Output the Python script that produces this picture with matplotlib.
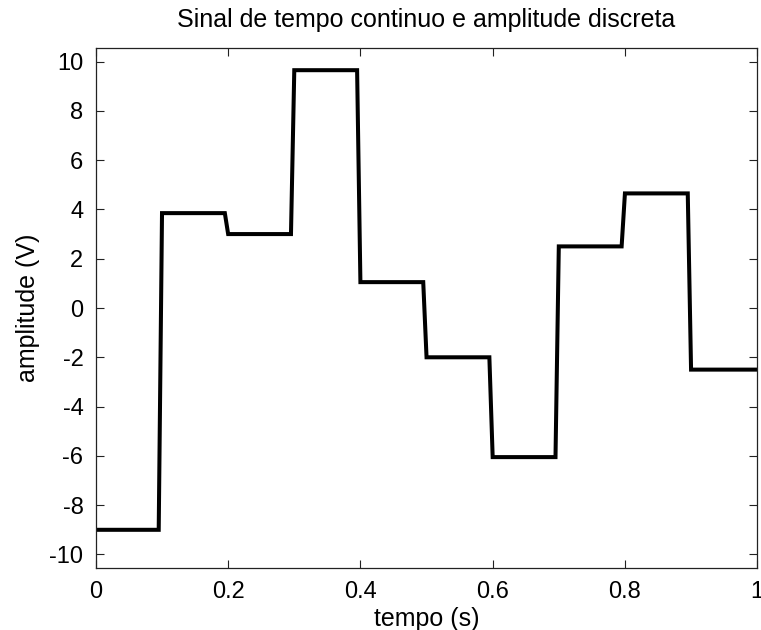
import matplotlib
matplotlib.use("Agg")
import matplotlib.pyplot as plt

# Step levels of the signal (one per 0.1 s interval)
seg_start = [0.0, 0.1, 0.2, 0.3, 0.4, 0.5, 0.6, 0.7, 0.8, 0.9]
seg_end = [0.095, 0.195, 0.295, 0.395, 0.495, 0.595, 0.695, 0.795, 0.895, 1.0]
levels = [-9.0, 3.85, 3.0, 9.65, 1.05, -2.0, -6.05, 2.5, 4.65, -2.5]

xticks = [0, 0.2, 0.4, 0.6, 0.8, 1]
xtick_labels = ["0", "0.2", "0.4", "0.6", "0.8", "1"]
yticks = [-10, -8, -6, -4, -2, 0, 2, 4, 6, 8, 10]

plt.rcParams['font.family'] = ['Liberation Sans', 'DejaVu Sans']
plt.rcParams['axes.unicode_minus'] = False

t = []
v = []
for s, e, l in zip(seg_start, seg_end, levels):
    t += [s, e]
    v += [l, l]

fig = plt.figure(figsize=(7.61, 6.30), dpi=100)
ax = fig.add_axes([0.126, 0.0984, 0.869, 0.8254])
ax.plot(t, v, color='black', linewidth=2.9, solid_joinstyle='miter')
ax.set_xlim(0, 1)
ax.set_ylim(-10.55, 10.55)
ax.set_xticks(xticks)
ax.set_xticklabels(xtick_labels)
ax.set_yticks(yticks)
ax.tick_params(direction='in', length=6, width=0.8, top=True, right=True,
               labelsize=17, colors='#222222', labelcolor='black')
ax.tick_params(axis='x', pad=9)
ax.tick_params(axis='y', pad=9)
for sp in ax.spines.values():
    sp.set_linewidth(0.9)
    sp.set_color('#222222')
ax.set_title("Sinal de tempo continuo e amplitude discreta", fontsize=18, pad=15)
ax.set_xlabel("tempo (s)", fontsize=18, labelpad=3)
ax.set_ylabel("amplitude (V)", fontsize=18, labelpad=7)
fig.savefig("out.png", dpi=100)
